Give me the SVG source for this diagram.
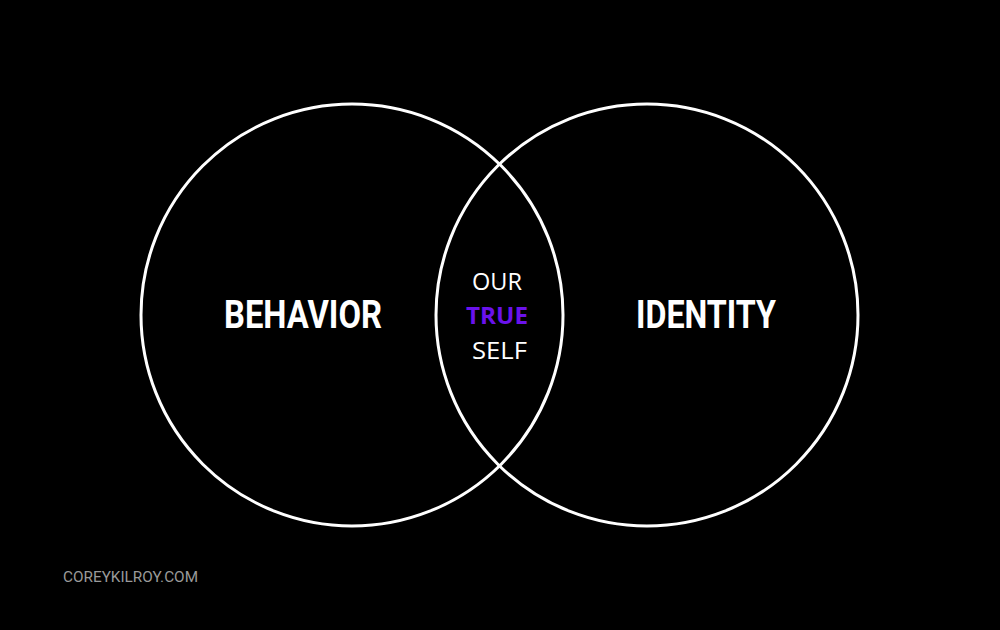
<svg xmlns="http://www.w3.org/2000/svg" width="1000" height="630" viewBox="0 0 1000 630">
<style>
.c{fill:none;stroke:#fff;stroke-width:3}
.big{font-family:Roboto,"Liberation Sans",sans-serif;font-weight:700;font-size:39px;fill:#fff}
.mid{font-family:"Open Sans","Noto Sans",sans-serif;font-size:24px;fill:#fff}
.true{font-family:"Open Sans","Noto Sans",sans-serif;font-weight:700;font-size:24px;fill:#6a12ec}
.foot{font-family:Roboto,"Liberation Sans",sans-serif;font-size:15px;fill:#9a9a9a}
</style>
<rect width="1000" height="630" fill="#000"/>
<g id="behavior">
<circle class="c" cx="352" cy="315" r="211"/>
<text class="big" x="224" y="328" textLength="158" lengthAdjust="spacingAndGlyphs">BEHAVIOR</text>
</g>
<g id="identity">
<circle class="c" cx="647" cy="315" r="211"/>
<text class="big" x="636" y="328" textLength="140" lengthAdjust="spacingAndGlyphs">IDENTITY</text>
</g>
<g id="overlap">
<text class="mid" x="472" y="290" textLength="50" lengthAdjust="spacingAndGlyphs">OUR</text>
<text class="true" x="466" y="324" textLength="62" lengthAdjust="spacingAndGlyphs">TRUE</text>
<text class="mid" x="472" y="359" textLength="55" lengthAdjust="spacingAndGlyphs">SELF</text>
</g>
<text class="foot" x="63" y="582" textLength="135" lengthAdjust="spacingAndGlyphs">COREYKILROY.COM</text>
</svg>
